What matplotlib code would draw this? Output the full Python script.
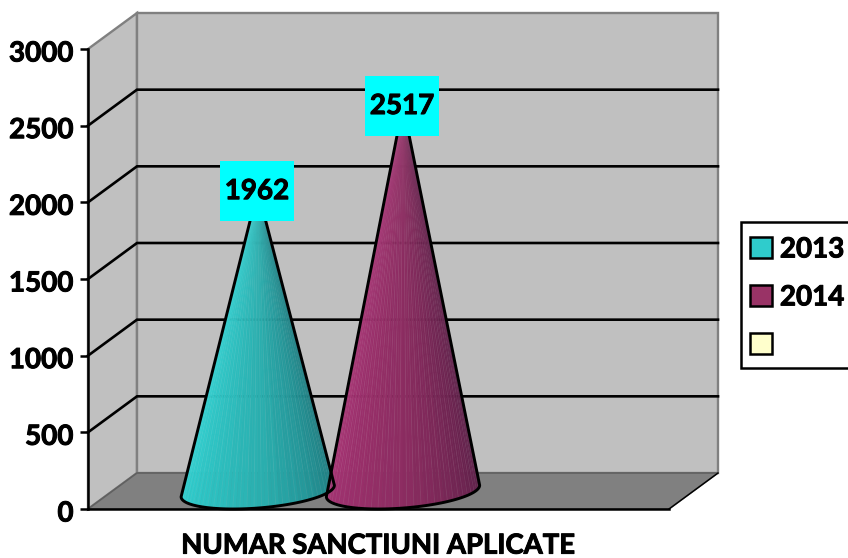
import numpy as np
import matplotlib
matplotlib.use("Agg")
import matplotlib.pyplot as plt
import matplotlib.patheffects as pe
from matplotlib.collections import PolyCollection
from matplotlib.patches import Polygon, Patch, Rectangle
from matplotlib.path import Path
from matplotlib.colors import to_rgb
from matplotlib.transforms import ScaledTranslation

series_names = ["2013", "2014", ""]
series_values = [1962, 2517, None]
series_light = ["#30D4D4", "#A83274", "#FFFFCC"]
series_mid = ["#2AAEAE", "#8A2C60", "#FFFFCC"]
series_dark = ["#1B7479", "#561D44", "#FFFFCC"]
legend_colors = ["#2FCCCC", "#993366", "#FFFFCC"]
y_ticks = [0, 500, 1000, 1500, 2000, 2500, 3000]
category = "NUMAR SANCTIUNI APLICATE"

plt.rcParams["font.family"] = ["Lato", "DejaVu Sans"]
plt.rcParams["font.weight"] = "bold"

W, H = 848, 558
FS = 20
heavy = [pe.withStroke(linewidth=0.7, foreground="black")]
fig = plt.figure(figsize=(W / 100, H / 100), dpi=100, facecolor="white")
ax = fig.add_axes([88 / W, (H - 509) / H, 581 / W, 460 / H])
ax.set_xlim(0, 1)
ax.set_ylim(0, 3000)
ax.patch.set_visible(False)

# oblique projection of the chart depth
DX = 49 / 581
DY = 36 / 460 * 3000


def proj(x, y, d):
    return np.asarray(x) + np.asarray(d) * DX, np.asarray(y) + np.asarray(d) * DY


def quad(corners, **kw):
    pts = [proj(*c) for c in corners]
    ax.add_patch(Polygon(pts, closed=True, clip_on=False, **kw))


GRAY = "#808080"
edge = dict(edgecolor=GRAY, linewidth=1.7)
quad([(0, 0, 0), (0, 3000, 0), (0, 3000, 1), (0, 0, 1)], facecolor="#C0C0C0", zorder=1, **edge)
quad([(0, 0, 1), (0, 3000, 1), (1, 3000, 1), (1, 0, 1)], facecolor="#C0C0C0", zorder=1, **edge)
quad([(0, 0, 0), (0, 0, 1), (1, 0, 1), (1, 0, 0)], facecolor="#808080", zorder=1, edgecolor="#606060", linewidth=1.2)

# gridlines on the side and back walls
for v in y_ticks[1:-1]:
    xs, ys = proj([0, 0, 1], [v, v, v], [0, 1, 1])
    ax.plot(xs, ys, color="black", lw=1.9, clip_on=False, zorder=2, solid_joinstyle="miter")
xs, ys = proj([1, 1], [0, 0], [0, 1])
ax.plot(xs, ys, color="black", lw=1.0, clip_on=False, zorder=2)

# cones: one slot per series, one quarter of the category wide
n = len(series_names) + 1
radius = 1 / n / 2
R_px = radius * 581
t0 = np.arctan2(24.5, R_px)
for i, val in enumerate(series_values):
    if val is None:
        continue
    cx = (i + 1) / n
    t = np.linspace(np.pi + t0, 2 * np.pi + t0, 67)
    bx, by = proj(cx + radius * np.cos(t), np.zeros_like(t), 0.5 + 0.5 * np.sin(t))
    ax_, ay_ = proj(cx, val, 0.5)
    L, M, D = (np.array(to_rgb(c)) for c in (series_light[i], series_mid[i], series_dark[i]))
    polys, cols = [], []
    for k in range(len(t) - 1):
        f = k / (len(t) - 2)
        fb = np.floor(f * 22) / 22
        c = L + (M - L) * fb / 0.5 if fb < 0.5 else M + (D - M) * (fb - 0.5) / 0.5
        polys.append([(ax_, ay_), (bx[k], by[k]), (bx[k + 1], by[k + 1])])
        cols.append(c)
    ax.add_collection(PolyCollection(polys, facecolors=cols, edgecolors=cols, linewidths=0.35,
                                     clip_on=False, zorder=3))
    # faint light streaks of the rendered cone surface
    for k in range(2, len(t) - 1, 2):
        ax.plot([ax_, bx[k]], [ay_, by[k]], color="white", alpha=0.07, lw=0.6,
                clip_on=False, zorder=3.5)
    ox = np.r_[ax_, bx, ax_]
    oy = np.r_[ay_, by, ay_]
    ax.plot(ox, oy, color="black", lw=2.1, clip_on=False, zorder=4, solid_joinstyle="round")


def label_box(x0, y0, width, height, mutation_size):
    cx_, cy_ = x0 + width / 2, y0 + height / 2
    hw, hh = 37, 30
    return Path([(cx_ - hw, cy_ - hh), (cx_ + hw, cy_ - hh), (cx_ + hw, cy_ + hh),
                 (cx_ - hw, cy_ + hh), (cx_ - hw, cy_ - hh)],
                closed=True)


for i, val in enumerate(series_values):
    if val is None:
        continue
    lx, ly = proj((i + 1) / n, val, 0.5)
    ax.annotate(str(val), xy=(lx, ly), xytext=(-0.7, -0.7), textcoords="offset points",
                ha="center", va="center", fontsize=FS, fontweight="bold",
                color="black", zorder=6, annotation_clip=False, path_effects=heavy,
                bbox=dict(boxstyle=label_box, facecolor="#00FFFF", edgecolor="none", path_effects=[]))

# axes furniture
for s in ("top", "right"):
    ax.spines[s].set_visible(False)
for s in ("left", "bottom"):
    ax.spines[s].set_linewidth(1.8)
    ax.spines[s].set_zorder(5)
ax.set_yticks(y_ticks)
ax.tick_params(axis="y", length=5.8, width=1.8, pad=4.5, labelsize=FS)
ax.set_xticks([])
shift = ScaledTranslation(0, -2 / 100, fig.dpi_scale_trans)
for lab in ax.get_yticklabels():
    lab.set_fontweight("bold")
    lab.set_path_effects(heavy)
    lab.set_transform(lab.get_transform() + shift)
ax.set_xlabel(category, fontsize=19.8, fontweight="bold", labelpad=17, path_effects=heavy)

handles = [Patch(facecolor=c, edgecolor="black", linewidth=1.8) for c in legend_colors]
fig.add_artist(Rectangle((741 / W, 1 - 368 / H), 120 / W, 146 / H, transform=fig.transFigure,
                         facecolor="white", edgecolor="black", linewidth=1.8, zorder=2))
leg = fig.legend(handles, series_names, loc="upper left",
                 bbox_to_anchor=(736 / W, 1 - 222 / H), bbox_transform=fig.transFigure,
                 borderaxespad=0, frameon=False,
                 prop=dict(family="Lato", weight="bold", size=FS),
                 handlelength=0.78, handleheight=0.78, handletextpad=0.28,
                 labelspacing=0.79, borderpad=0.52)
leg.set_zorder(3)
for txt in leg.get_texts():
    txt.set_path_effects(heavy)

fig.savefig("out.png", dpi=100, facecolor="white")
